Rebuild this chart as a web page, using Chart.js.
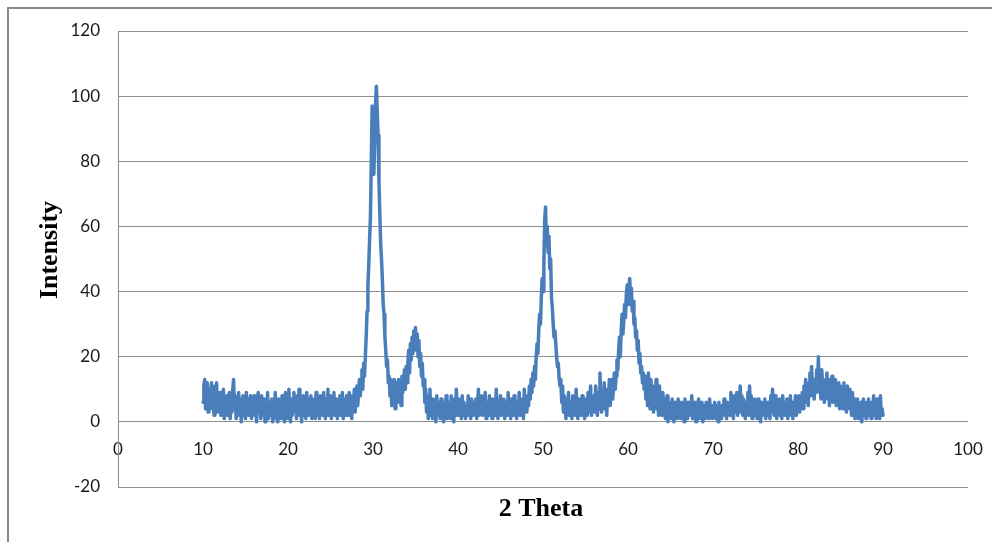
<!DOCTYPE html>
<html>
<head>
<meta charset="utf-8">
<script src="https://cdn.jsdelivr.net/npm/chart.js@4.4.1/dist/chart.umd.min.js"></script>
<style>
  html, body { margin: 0; padding: 0; background: #ffffff; }
  #wrap { width: 992px; height: 542px; }
</style>
</head>
<body>
<div id="wrap"><canvas id="c" width="992" height="542"></canvas></div>
<script>
// ---- Data ----
const xTitle = '2 Theta';
const yTitle = 'Intensity';
const xTicks = [0, 10, 20, 30, 40, 50, 60, 70, 80, 90, 100];
const yTicks = [-20, 0, 20, 40, 60, 80, 100, 120];
const thetaStart = 10;   // first 2θ sample
const thetaStep = 0.1;   // sampling interval of the values below
// intensity samples, 2θ = 10.0 ... 90.0 (one row per degree)
const intensity = [
  6, 11, 13, 4, 8, 12, 3, 10, 5, 9,
  12, 4, 7, 2, 11, 6, 12, 3, 8, 5,
  9, 2, 7, 4, 10, 1, 6, 3, 8, 2,
  5, 9, 1, 7, 3, 10, 13, 4, 8, 1,
  6, 2, 9, 3, 7, 0, 5, 8, 2, 6,
  1, 9, 4, 7, 2, 5, 8, 1, 6, 3,
  8, 2, 5, 0, 7, 9, 3, 6, 1, 8,
  4, 2, 7, 0, 5, 3, 9, 1, 6, 2,
  4, 7, 0, 6, 2, 9, 1, 5, 0, 7,
  3, 5, 1, 8, 2, 6, 0, 9, 3, 5,
  1, 10, 4, 0, 7, 2, 6, 9, 3, 5,
  1, 8, 3, 10, 2, 6, 0, 5, 8, 2,
  6, 1, 9, 4, 2, 7, 3, 8, 1, 5,
  3, 7, 1, 9, 2, 6, 4, 1, 8, 3,
  6, 2, 9, 4, 1, 7, 3, 10, 2, 5,
  8, 1, 6, 3, 9, 2, 5, 7, 1, 6,
  3, 8, 2, 5, 9, 1, 7, 4, 2, 8,
  5, 2, 9, 3, 6, 1, 8, 4, 10, 3,
  7, 11, 5, 9, 13, 8, 12, 16, 10, 18,
  14, 20, 26, 34, 42, 48, 56, 63, 80, 97,
  88, 76, 86, 98, 103, 95, 88, 74, 64, 55,
  50, 44, 36, 33, 26, 22, 17, 19, 12, 14,
  8, 13, 5, 11, 7, 13, 4, 9, 12, 6,
  13, 8, 11, 5, 14, 9, 12, 16, 10, 17,
  12, 18, 22, 15, 24, 19, 26, 21, 28, 23,
  29, 22, 27, 20, 25, 17, 21, 14, 18, 11,
  13, 6, 10, 3, 8, 1, 6, 10, 2, 5,
  1, 7, 3, 5, 0, 8, 2, 6, 4, 1,
  7, 3, 5, 0, 6, 2, 8, 1, 5, 3,
  6, 1, 8, 3, 5, 0, 7, 2, 10, 4,
  2, 7, 3, 5, 1, 8, 2, 6, 3, 1,
  5, 2, 8, 3, 6, 1, 7, 4, 2, 6,
  3, 7, 1, 5, 10, 2, 6, 3, 8, 2,
  5, 3, 9, 1, 6, 4, 2, 8, 3, 6,
  1, 7, 3, 5, 2, 10, 4, 1, 6, 3,
  8, 2, 5, 3, 7, 1, 6, 4, 2, 9,
  3, 6, 1, 7, 4, 2, 8, 3, 5, 1,
  6, 3, 9, 2, 5, 4, 7, 1, 10, 4,
  6, 3, 8, 5, 11, 7, 13, 9, 15, 11,
  17, 13, 20, 24, 21, 28, 33, 30, 38, 44,
  40, 48, 62, 66, 54, 60, 52, 57, 47, 50,
  38, 35, 30, 26, 28, 24, 20, 17, 18, 13,
  11, 13, 6, 11, 3, 8, 5, 1, 7, 3,
  9, 2, 6, 4, 1, 8, 3, 6, 2, 10,
  4, 1, 7, 3, 5, 2, 8, 3, 6, 1,
  7, 4, 2, 9, 3, 6, 11, 2, 5, 4,
  8, 3, 11, 5, 2, 9, 4, 15, 6, 3,
  9, 5, 12, 4, 8, 2, 10, 6, 13, 5,
  9, 13, 7, 11, 15, 10, 14, 19, 16, 22,
  26, 20, 28, 33, 27, 31, 36, 32, 39, 42,
  36, 40, 44, 38, 41, 34, 37, 30, 32, 26,
  28, 22, 25, 18, 21, 15, 17, 12, 15, 10,
  14, 7, 12, 5, 15, 9, 4, 13, 6, 11,
  3, 10, 6, 13, 4, 8, 2, 11, 5, 7,
  2, 9, 4, 7, 1, 5, 8, 0, 6, 3,
  5, 1, 7, 3, 0, 6, 2, 4, 1, 7,
  3, 5, 1, 6, 2, 4, 0, 7, 3, 5,
  1, 6, 2, 5, 3, 8, 1, 4, 2, 6,
  0, 5, 3, 7, 1, 4, 2, 6, 0, 5,
  3, 1, 6, 2, 4, 1, 7, 3, 5, 1,
  4, 2, 6, 1, 5, 3, 0, 6, 2, 4,
  1, 5, 3, 7, 2, 4, 1, 6, 3, 5,
  2, 9, 4, 6, 1, 8, 3, 5, 9, 2,
  6, 4, 11, 3, 8, 2, 7, 5, 1, 6,
  3, 9, 2, 11, 5, 8, 1, 6, 3, 7,
  2, 5, 1, 7, 3, 4, 0, 6, 2, 5,
  3, 7, 1, 5, 2, 6, 4, 1, 8, 3,
  10, 5, 2, 8, 4, 1, 6, 3, 7, 2,
  5, 1, 8, 3, 6, 2, 4, 7, 1, 5,
  3, 8, 2, 6, 1, 5, 3, 8, 2, 6,
  4, 8, 3, 7, 5, 9, 4, 11, 6, 13,
  7, 11, 5, 12, 15, 8, 17, 10, 13, 7,
  12, 9, 16, 11, 20, 9, 14, 7, 16, 10,
  13, 6, 12, 8, 15, 7, 11, 5, 13, 9,
  14, 6, 11, 8, 13, 5, 10, 7, 12, 4,
  11, 6, 10, 4, 12, 7, 9, 3, 11, 5,
  10, 4, 8, 2, 9, 5, 7, 1, 6, 3,
  7, 1, 5, 2, 6, 0, 4, 7, 2, 5,
  1, 6, 3, 7, 2, 4, 1, 6, 3, 8,
  2, 5, 1, 7, 3, 6, 1, 8, 2, 4,
  2
];

const points = intensity.map((v, i) => ({ x: +(thetaStart + i * thetaStep).toFixed(1), y: v }));

const fontTicks = { family: 'Lato, "Open Sans", sans-serif', size: 17 };

const decor = {
  id: 'decor',
  beforeDraw(chart) {
    const ctx = chart.ctx;
    ctx.save();
    ctx.fillStyle = '#ffffff';
    ctx.fillRect(0, 0, chart.width, chart.height);
    ctx.strokeStyle = '#8a8a8a';
    ctx.lineWidth = 2;
    ctx.strokeRect(8, 8, chart.width + 40, chart.height + 40);
    ctx.restore();
  },
  afterDraw(chart) {
    const ctx = chart.ctx;
    const a = chart.chartArea;
    ctx.save();
    ctx.fillStyle = '#000000';
    ctx.font = 'bold 26px "Liberation Serif", "Times New Roman", serif';
    ctx.textAlign = 'center';
    ctx.textBaseline = 'middle';
    ctx.fillText(xTitle, (a.left + a.right) / 2 - 2, a.bottom + 22);
    ctx.translate(50, 250);
    ctx.rotate(-Math.PI / 2);
    ctx.fillText(yTitle, 0, 0);
    ctx.restore();
  }
};

new Chart(document.getElementById('c'), {
  type: 'line',
  data: {
    datasets: [{
      data: points,
      borderColor: '#4a7ebb',
      borderWidth: 3.5,
      pointRadius: 0,
      tension: 0,
      fill: false,
      borderJoinStyle: 'round',
      borderCapStyle: 'round'
    }]
  },
  options: {
    responsive: false,
    animation: false,
    devicePixelRatio: 1,
    layout: { padding: { left: 0, top: 31, right: 24, bottom: 55 } },
    plugins: { legend: { display: false }, tooltip: { enabled: false } },
    scales: {
      x: {
        type: 'linear',
        min: xTicks[0],
        max: xTicks[xTicks.length - 1],
        position: { y: 0 },
        afterBuildTicks: (s) => { s.ticks = xTicks.map(v => ({ value: v })); },
        ticks: { color: '#1a1a1a', font: fontTicks, padding: 9, maxRotation: 0, autoSkip: false },
        grid: { display: false },
        border: { display: false }
      },
      y: {
        min: yTicks[0],
        max: yTicks[yTicks.length - 1],
        afterBuildTicks: (s) => { s.ticks = yTicks.map(v => ({ value: v })); },
        afterFit: (s) => { s.width = 118; },
        ticks: { color: '#1a1a1a', font: fontTicks, padding: 18 },
        grid: { color: '#8e8e8e', lineWidth: 1, drawTicks: false },
        border: { color: '#8e8e8e', width: 1 }
      }
    }
  },
  plugins: [decor]
});
</script>
</body>
</html>
